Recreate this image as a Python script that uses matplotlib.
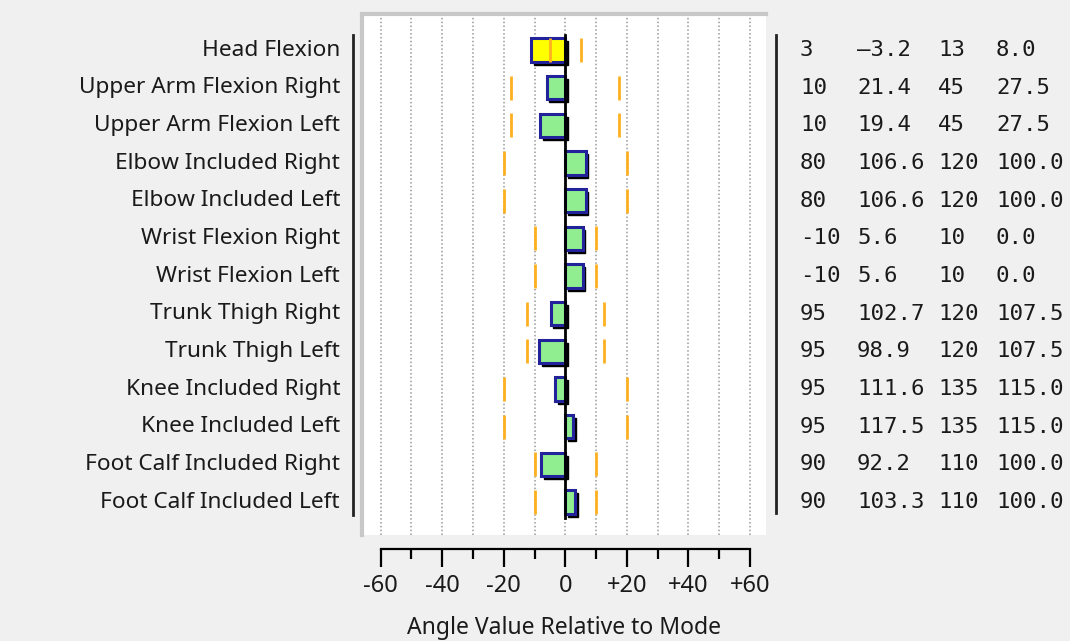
import matplotlib
matplotlib.use("Agg")
import matplotlib.pyplot as plt
from matplotlib.patches import Rectangle
import matplotlib.transforms as mtransforms

# joint names and table values: min, actual, max, mode
joints = ["Head Flexion", "Upper Arm Flexion Right", "Upper Arm Flexion Left",
          "Elbow Included Right", "Elbow Included Left", "Wrist Flexion Right",
          "Wrist Flexion Left", "Trunk Thigh Right", "Trunk Thigh Left",
          "Knee Included Right", "Knee Included Left", "Foot Calf Included Right",
          "Foot Calf Included Left"]
min_vals = [3, 10, 10, 80, 80, -10, -10, 95, 95, 95, 95, 90, 90]
actual_vals = [-3.2, 21.4, 19.4, 106.6, 106.6, 5.6, 5.6, 102.7, 98.9, 111.6, 117.5, 92.2, 103.3]
max_vals = [13, 45, 45, 120, 120, 10, 10, 120, 120, 135, 135, 110, 110]
mode_vals = [8.0, 27.5, 27.5, 100.0, 100.0, 0.0, 0.0, 107.5, 107.5, 115.0, 115.0, 100.0, 100.0]

tick_vals = [-60, -40, -20, 0, 20, 40, 60]
tick_labels = ["-60", "-40", "-20", "0", "+20", "+40", "+60"]

W, H = 1070, 641
fig = plt.figure(figsize=(W / 100, H / 100), dpi=100)
fig.patch.set_facecolor("#f0f0f0")

left, right, top, bottom = 362, 766, 14, 535
ax = fig.add_axes([left / W, 1 - bottom / H, (right - left) / W, (bottom - top) / H])
ax.set_facecolor("white")
ax.set_xlim(-66.05, 65.2)
ax.set_ylim(12.875, -0.956)

# gridlines
for g in range(-60, 61, 10):
    ax.axvline(g, color="#999999", ls=(0, (1, 1.5)), lw=1.1, zorder=1)

bh = 0.62
sx, sy = 0.9, 0.08
for i, j in enumerate(joints):
    rel = actual_vals[i] - mode_vals[i]
    lo = min_vals[i] - mode_vals[i]
    hi = max_vals[i] - mode_vals[i]
    inside = min_vals[i] <= actual_vals[i] <= max_vals[i]
    face = "#90ee90" if inside else "#ffff00"
    x0 = min(0, rel)
    # shadow
    ax.add_patch(Rectangle((x0 + sx, i - bh / 2 + sy), abs(rel), bh,
                           facecolor="black", edgecolor="black", lw=1, zorder=2))
    ax.add_patch(Rectangle((x0, i - bh / 2), abs(rel), bh,
                           facecolor=face, edgecolor="#22229a", lw=2.2, zorder=3))
    for v in (lo, hi):
        ax.plot([v, v], [i - 0.32, i + 0.32], color="#ffb020", lw=2, zorder=4,
                solid_capstyle="butt")

ax.plot([0, 0], [-0.4, 12.42], color="black", lw=2, zorder=5)

# spines / frame
for s in ["right", "left", "top"]:
    ax.spines[s].set_visible(False)
ax.plot([0, 0], [0, 0.995], transform=ax.transAxes, color="#c8c8c8", lw=3, clip_on=False)
ax.plot([0, 1], [1, 1], transform=ax.transAxes, color="#c8c8c8", lw=3, clip_on=False)

ax.spines["bottom"].set_position(("outward", 10))
ax.spines["bottom"].set_bounds(-60, 60)
ax.spines["bottom"].set_linewidth(1.6)
ax.set_xticks(tick_vals)
ax.set_xticklabels(tick_labels, fontsize=17, family="Noto Sans", color="#1a1a1a")
ax.set_xticks(range(-50, 60, 20), minor=True)
ax.tick_params(axis="x", which="major", direction="out", length=13, width=1.6, pad=5)
ax.tick_params(axis="x", which="minor", direction="out", length=7.5, width=1.6)
ax.set_yticks([])
ax.set_xlabel("Angle Value Relative to Mode", fontsize=16.5, family="Noto Sans",
              color="#1a1a1a", labelpad=13)

trans = mtransforms.blended_transform_factory(ax.transAxes, ax.transData)
for i, j in enumerate(joints):
    ax.text((340 - left) / (right - left), i, j, transform=trans, ha="right", va="center",
            fontsize=16.3, family="Noto Sans", color="#1a1a1a", clip_on=False)

# side bars
ax.plot([(353 - left) / (right - left)] * 2, [-0.4, 12.35], transform=trans,
        color="#222222", lw=2, clip_on=False)
ax.plot([(776 - left) / (right - left)] * 2, [-0.4, 12.3], transform=trans,
        color="#222222", lw=2, clip_on=False)

# table
col_x = [800, 857, 938, 996]
for i in range(len(joints)):
    cells = [str(min_vals[i]),
             ("%.1f" % actual_vals[i]).replace("-", "\u2013"),
             str(max_vals[i]), "%.1f" % mode_vals[i]]
    for cx, c in zip(col_x, cells):
        ax.text((cx - left) / (right - left), i, c, transform=trans, ha="left", va="center",
                fontsize=16.1, family="DejaVu Sans Mono", color="#1a1a1a", clip_on=False)

fig.savefig("out.png", dpi=100, facecolor=fig.get_facecolor())
